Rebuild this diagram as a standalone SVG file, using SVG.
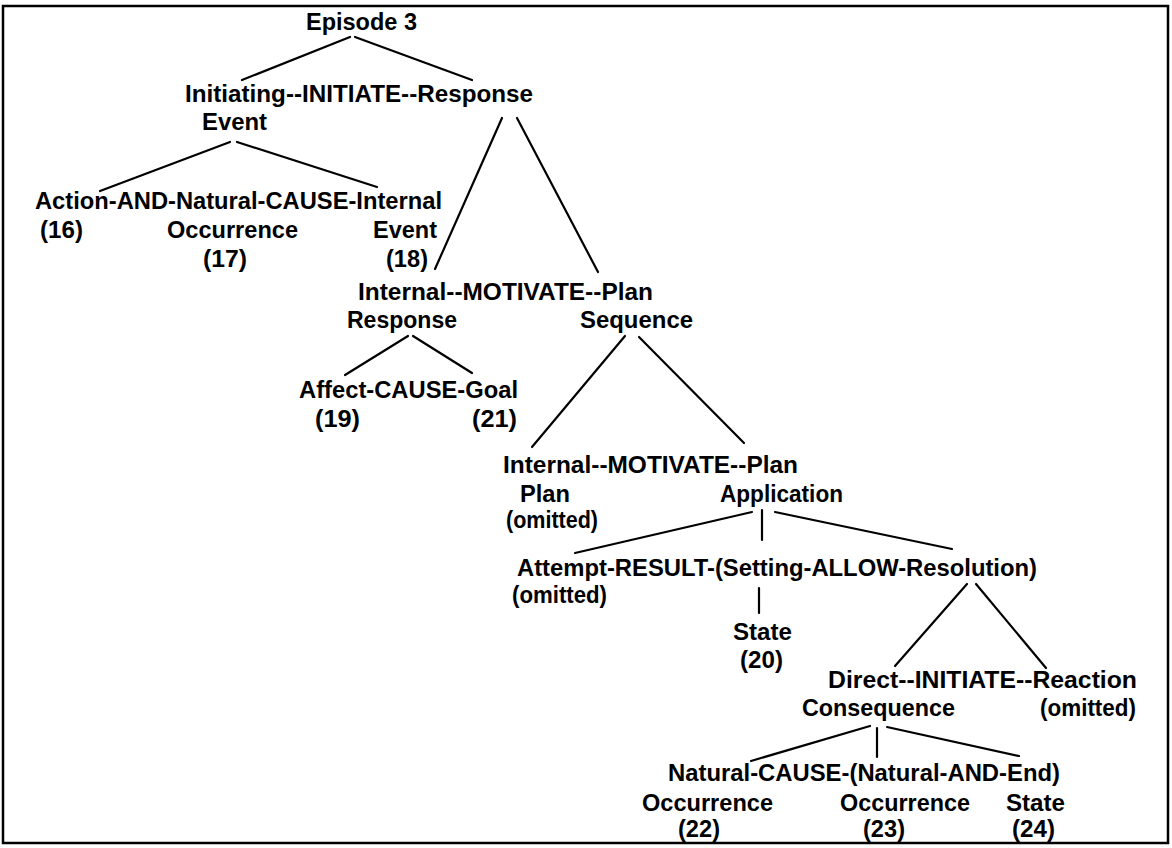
<svg xmlns="http://www.w3.org/2000/svg" width="1172" height="848" viewBox="0 0 1172 848">
<style>
text{font-family:"Liberation Sans",Arial,sans-serif;font-weight:bold;font-size:23px;fill:#000}
.c line{stroke:#000;stroke-width:2.2;stroke-linecap:round}
.frame{fill:#fff;stroke:#000;stroke-width:2.5}
</style>
<rect class="frame" x="3" y="6" width="1165" height="837"/>
<g id="episode"><text x="306" y="30" textLength="111" lengthAdjust="spacingAndGlyphs">Episode 3</text></g>
<g id="initiate1">
<text x="185" y="102" textLength="348" lengthAdjust="spacingAndGlyphs">Initiating--INITIATE--Response</text>
<text x="202" y="130" textLength="65" lengthAdjust="spacingAndGlyphs">Event</text>
</g>
<g id="action">
<text x="35" y="209" textLength="407" lengthAdjust="spacingAndGlyphs">Action-AND-Natural-CAUSE-Internal</text>
<text x="40" y="238" textLength="43" lengthAdjust="spacingAndGlyphs">(16)</text>
<text x="167" y="238" textLength="131" lengthAdjust="spacingAndGlyphs">Occurrence</text>
<text x="373" y="238" textLength="64" lengthAdjust="spacingAndGlyphs">Event</text>
<text x="203" y="267" textLength="44" lengthAdjust="spacingAndGlyphs">(17)</text>
<text x="386" y="267" textLength="42" lengthAdjust="spacingAndGlyphs">(18)</text>
</g>
<g id="motivate1">
<text x="358" y="300" textLength="295" lengthAdjust="spacingAndGlyphs">Internal--MOTIVATE--Plan</text>
<text x="347" y="328" textLength="110" lengthAdjust="spacingAndGlyphs">Response</text>
<text x="580" y="328" textLength="113" lengthAdjust="spacingAndGlyphs">Sequence</text>
</g>
<g id="affect">
<text x="299" y="398" textLength="219" lengthAdjust="spacingAndGlyphs">Affect-CAUSE-Goal</text>
<text x="315" y="427" textLength="45" lengthAdjust="spacingAndGlyphs">(19)</text>
<text x="472" y="427" textLength="45" lengthAdjust="spacingAndGlyphs">(21)</text>
</g>
<g id="motivate2">
<text x="503" y="473" textLength="295" lengthAdjust="spacingAndGlyphs">Internal--MOTIVATE--Plan</text>
<text x="520" y="502" textLength="50" lengthAdjust="spacingAndGlyphs">Plan</text>
<text x="720" y="502" textLength="123" lengthAdjust="spacingAndGlyphs">Application</text>
<text x="506" y="528" textLength="92" lengthAdjust="spacingAndGlyphs">(omitted)</text>
</g>
<g id="attempt">
<text x="517" y="576" textLength="520" lengthAdjust="spacingAndGlyphs">Attempt-RESULT-(Setting-ALLOW-Resolution)</text>
<text x="512" y="603" textLength="95" lengthAdjust="spacingAndGlyphs">(omitted)</text>
</g>
<g id="state20">
<text x="733" y="640" textLength="59" lengthAdjust="spacingAndGlyphs">State</text>
<text x="740" y="668" textLength="43" lengthAdjust="spacingAndGlyphs">(20)</text>
</g>
<g id="direct">
<text x="828" y="688" textLength="309" lengthAdjust="spacingAndGlyphs">Direct--INITIATE--Reaction</text>
<text x="802" y="716" textLength="153" lengthAdjust="spacingAndGlyphs">Consequence</text>
<text x="1040" y="716" textLength="96" lengthAdjust="spacingAndGlyphs">(omitted)</text>
</g>
<g id="natural">
<text x="668" y="781" textLength="392" lengthAdjust="spacingAndGlyphs">Natural-CAUSE-(Natural-AND-End)</text>
<text x="642" y="811" textLength="131" lengthAdjust="spacingAndGlyphs">Occurrence</text>
<text x="840" y="811" textLength="130" lengthAdjust="spacingAndGlyphs">Occurrence</text>
<text x="1006" y="811" textLength="59" lengthAdjust="spacingAndGlyphs">State</text>
<text x="678" y="837" textLength="42" lengthAdjust="spacingAndGlyphs">(22)</text>
<text x="863" y="837" textLength="42" lengthAdjust="spacingAndGlyphs">(23)</text>
<text x="1012" y="837" textLength="43" lengthAdjust="spacingAndGlyphs">(24)</text>
</g>
<g id="connectors" class="c">
<line x1="350" y1="37" x2="242" y2="80"/>
<line x1="355" y1="37" x2="472" y2="80"/>
<line x1="230" y1="142" x2="100" y2="191"/>
<line x1="237" y1="142" x2="377" y2="187"/>
<line x1="502" y1="118" x2="435" y2="269"/>
<line x1="517" y1="118" x2="598" y2="272"/>
<line x1="408" y1="336" x2="345" y2="375"/>
<line x1="413" y1="336" x2="472" y2="373"/>
<line x1="625" y1="336" x2="532" y2="447"/>
<line x1="639" y1="337" x2="744" y2="443"/>
<line x1="752" y1="512" x2="575" y2="553"/>
<line x1="762" y1="510" x2="762" y2="540"/>
<line x1="775" y1="512" x2="952" y2="549"/>
<line x1="759" y1="588" x2="759" y2="613"/>
<line x1="967" y1="584" x2="895" y2="666"/>
<line x1="976" y1="584" x2="1046" y2="668"/>
<line x1="870" y1="726" x2="751" y2="761"/>
<line x1="877" y1="728" x2="877" y2="757"/>
<line x1="887" y1="727" x2="1019" y2="756"/>
</g>
</svg>
